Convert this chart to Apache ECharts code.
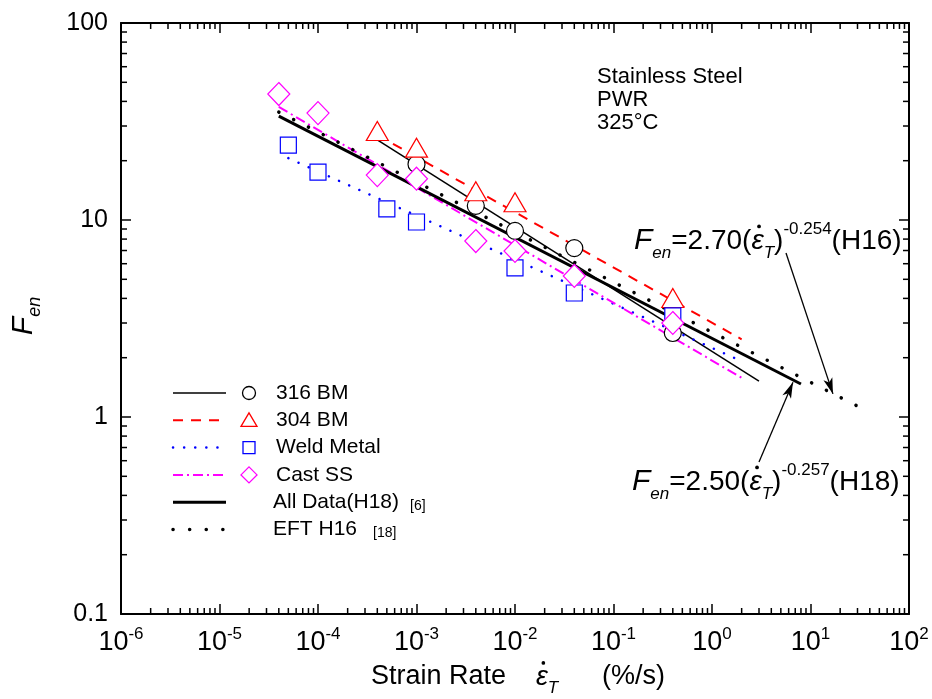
<!DOCTYPE html>
<html><head><meta charset="utf-8">
<script src="https://cdn.jsdelivr.net/npm/echarts@6/dist/echarts.min.js"></script>
<style>html,body{margin:0;padding:0;background:#fff}#c{width:932px;height:699px}</style>
</head><body><div id="c"></div>
<script>
const FONT = "'Liberation Sans', Arial, sans-serif";

// ---- data ----
const seriesNames = ['316 BM', '304 BM', 'Weld Metal', 'Cast SS', 'All Data(H18)', 'EFT H16'];

const bm316X = [1e-3, 4e-3, 1e-2, 4e-2, 0.4];
const bm316Y = [19.2, 11.8, 8.8, 7.2, 2.67];
const bm304X = [4e-4, 1e-3, 4e-3, 1e-2, 0.4];
const bm304Y = [28.3, 23.3, 14.0, 12.3, 4.02];
const weldX  = [5e-5, 1e-4, 5e-4, 1e-3, 1e-2, 4e-2, 0.4];
const weldY  = [24.0, 17.5, 11.4, 9.77, 5.71, 4.26, 3.26];
const castX  = [4e-5, 1e-4, 4e-4, 1e-3, 4e-3, 1e-2, 4e-2, 0.4];
const castY  = [43.6, 34.9, 16.9, 16.2, 7.82, 6.96, 5.2, 3.0];

const fit316X = [4e-4, 3.0],  fit316Y = [25.5, 1.52];
const fit304X = [4e-4, 2.0],  fit304Y = [27.0, 2.48];
const fitWeldX = [5e-5, 2.0], fitWeldY = [20.6, 1.92];
const fitCastX = [4e-5, 2.0], fitCastY = [37.5, 1.58];
const allX = [4e-5, 8.0],     allY = [33.7, 1.47];
const eftX = [4e-5, 34],      eftY = [35.3, 1.1];

// arrows (data coordinates): [fromX, fromY, toX, toY]
const arrowH16 = [5.64, 6.8, 16.9, 1.31];
const arrowH18 = [3.0, 0.591, 6.64, 1.5];

const xMin = 1e-6, xMax = 100, yMin = 0.1, yMax = 100;
const yTickLabels = {'-1': '0.1', '0': '1', '1': '10', '2': '100'};

// minor tick values (2..9 per decade)
const minorX = [], minorY = [];
for (let e = -6; e <= 1; e++) for (let k = 2; k <= 9; k++) minorX.push(k * Math.pow(10, e));
for (let e = -1; e <= 1; e++) for (let k = 2; k <= 9; k++) minorY.push(k * Math.pow(10, e));

const zip = (xs, ys) => xs.map((x, i) => [x, ys[i]]);

const chart = echarts.init(document.getElementById('c'), null, {renderer: 'canvas'});

function lineSeries(name, xs, ys, color, width, type, cap) {
  return {
    name, type: 'line', data: zip(xs, ys), showSymbol: false, symbol: 'none',
    lineStyle: {color, width, type: type || 'solid', cap: cap || 'butt'},
    silent: true, z: 3
  };
}
function scatterSeries(name, xs, ys, symbol, size, color, z) {
  return {
    name, type: 'scatter', data: zip(xs, ys), symbol, symbolSize: size,
    itemStyle: {color: '#fff', borderColor: color, borderWidth: 1.2, opacity: 1},
    silent: true, z
  };
}

// text measuring for inline formulas
const mctx = document.createElement('canvas').getContext('2d');
function textW(t, font) { mctx.font = font; return mctx.measureText(t).width; }

// tokens: {t, size, italic, dy, dot}
function inlineText(x, y, tokens) {
  const out = [];
  let cx = x;
  tokens.forEach(tk => {
    const font = (tk.italic ? 'italic ' : '') + tk.size + 'px ' + FONT;
    const w = textW(tk.t, font);
    out.push({type: 'text', x: cx, y: y + (tk.dy || 0), silent: true,
      style: {text: tk.t, font, fill: '#000', textVerticalAlign: 'middle'}});
    if (tk.dot) {
      out.push({type: 'circle', silent: true, shape: {cx: cx + w * 0.62, cy: y - tk.size * 0.52, r: tk.size * 0.068}, style: {fill: '#000'}});
    }
    cx += w + (tk.gap || 0);
  });
  return out;
}

function formula(x, y, coef, exp, tag) {
  return inlineText(x, y, [
    {t: 'F', size: 30, italic: true},
    {t: 'en', size: 17, italic: true, dy: 12},
    {t: '=' + coef + '(', size: 28},
    {t: '\u03B5', size: 28, italic: true, dot: true},
    {t: 'T', size: 17, italic: true, dy: 12},
    {t: ')', size: 28},
    {t: exp, size: 17, dy: -12},
    {t: '(' + tag + ')', size: 28}
  ]);
}

const axisCommonX = {
  type: 'log', logBase: 10, min: xMin, max: xMax, interval: 1, splitNumber: 8,
  axisLine: {show: true, onZero: false, lineStyle: {color: '#000', width: 2}},
  axisTick: {show: true, inside: true, length: 10, lineStyle: {color: '#000', width: 1.5}},
  splitLine: {show: false}, minorTick: {show: false}
};
const axisCommonY = {
  type: 'log', logBase: 10, min: yMin, max: yMax, interval: 1, splitNumber: 3,
  axisLine: {show: true, onZero: false, lineStyle: {color: '#000', width: 2}},
  axisTick: {show: true, inside: true, length: 10, lineStyle: {color: '#000', width: 1.5}},
  splitLine: {show: false}, minorTick: {show: false}
};

// legend drawn with graphic elements
const legendRows = [
  {stroke: '#000', width: 1.5, dash: null, sym: 'circle', color: '#000'},
  {stroke: '#ff0000', width: 2, dash: [10, 8], sym: 'triangle', color: '#ff0000'},
  {stroke: '#0000ff', width: 2.5, dash: [0.1, 11], cap: 'round', sym: 'rect', color: '#0000ff'},
  {stroke: '#ff00ff', width: 2, dash: [10, 4, 2, 4], sym: 'diamond', color: '#ff00ff'},
  {stroke: '#000', width: 3, dash: null, sym: null},
  {stroke: '#000', width: 3.5, dash: [0.1, 16.5], cap: 'round', sym: null}
];
const legendGraphics = [];
legendRows.forEach((r, i) => {
  const y = 393 + i * 27.3;
  legendGraphics.push({type: 'line', shape: {x1: 173, y1: y, x2: 226, y2: y},
    style: {stroke: r.stroke, lineWidth: r.width, lineDash: r.dash, lineCap: r.cap || 'butt'}});
  const st = {fill: '#fff', stroke: r.color, lineWidth: 1.3};
  if (r.sym === 'circle') legendGraphics.push({type: 'circle', shape: {cx: 249, cy: y, r: 6.5}, style: st});
  if (r.sym === 'triangle') legendGraphics.push({type: 'polygon', shape: {points: [[249, y - 7.5], [257, y + 6], [241, y + 6]]}, style: st});
  if (r.sym === 'rect') legendGraphics.push({type: 'rect', shape: {x: 243, y: y - 6, width: 12, height: 12}, style: st});
  if (r.sym === 'diamond') legendGraphics.push({type: 'polygon', shape: {points: [[249, y - 8], [257, y], [249, y + 8], [241, y]]}, style: st});
  legendGraphics.push({type: 'text', x: i >= 4 ? 273 : 276, y: y, style: {
    text: seriesNames[i], font: '21px ' + FONT, fill: '#000', textVerticalAlign: 'middle'}});
});
legendGraphics.push({type: 'text', x: 410, y: 506, style: {text: '[6]', font: '14px ' + FONT, fill: '#000', textVerticalAlign: 'middle'}});
legendGraphics.push({type: 'text', x: 373, y: 533, style: {text: '[18]', font: '14px ' + FONT, fill: '#000', textVerticalAlign: 'middle'}});

const option = {
  animation: false,
  backgroundColor: '#fff',
  grid: {left: 121, right: 23, top: 23, bottom: 85, containLabel: false},
  xAxis: [
    Object.assign({}, axisCommonX, {position: 'bottom',
      axisLabel: {show: true, margin: 12, color: '#000',
        formatter: v => '{b|10}{s|' + Math.round(Math.log10(v)) + '}',
        rich: {
          b: {fontSize: 27, fontFamily: FONT, lineHeight: 30, verticalAlign: 'bottom', color: '#000'},
          s: {fontSize: 17, fontFamily: FONT, lineHeight: 15, verticalAlign: 'top', color: '#000'}
        }}}),
    Object.assign({}, axisCommonX, {position: 'top', axisLabel: {show: false}})
  ],
  yAxis: [
    Object.assign({}, axisCommonY, {position: 'left',
      axisLabel: {show: true, margin: 13, color: '#000', fontSize: 25, fontFamily: FONT,
        formatter: v => yTickLabels[String(Math.round(Math.log10(v)))]}}),
    Object.assign({}, axisCommonY, {position: 'right', axisLabel: {show: false}})
  ],
  graphic: [
    {type: 'text', x: 597, y: 65, style: {text: 'Stainless Steel\nPWR\n325\u00B0C', font: '22px ' + FONT, fill: '#000', lineHeight: 23}},
    // axis titles
    {type: 'text', x: 24, y: 316, rotation: Math.PI / 2, style: {
      text: '{F|F}{s|en}', textAlign: 'center', textVerticalAlign: 'middle', fill: '#000',
      rich: {
        F: {fontSize: 30, fontStyle: 'italic', fontFamily: FONT, lineHeight: 40, verticalAlign: 'middle'},
        s: {fontSize: 18, fontStyle: 'italic', fontFamily: FONT, lineHeight: 16, verticalAlign: 'bottom'}
      }}},
    {type: 'text', x: 371, y: 677, style: {text: 'Strain Rate', font: '27px ' + FONT, fill: '#000', textVerticalAlign: 'middle'}},
    {type: 'text', x: 602, y: 677, style: {text: '(%/s)', font: '27px ' + FONT, fill: '#000', textVerticalAlign: 'middle'}}
  ].concat(
    inlineText(536, 677, [{t: '\u03B5', size: 27, italic: true, dot: true}, {t: 'T', size: 17, italic: true, dy: 11}]),
    formula(634, 241, '2.70', '-0.254', 'H16'),
    formula(632, 482, '2.50', '-0.257', 'H18'),
    legendGraphics
  ),
  series: [
    lineSeries(seriesNames[0], fit316X, fit316Y, '#000', 1.5),
    lineSeries(seriesNames[1], fit304X, fit304Y, '#ff0000', 2, [10, 8]),
    lineSeries(seriesNames[2], fitWeldX, fitWeldY, '#0000ff', 2.5, [0.1, 11], 'round'),
    lineSeries(seriesNames[3], fitCastX, fitCastY, '#ff00ff', 2, [10, 4, 2, 4]),
    lineSeries(seriesNames[4], allX, allY, '#000', 3),
    Object.assign(lineSeries(seriesNames[5], eftX, eftY, '#000', 3.5, [0.1, 16.5], 'round'), {
      markLine: {
        silent: true, animation: false, symbol: ['none', 'arrow'], symbolSize: [7, 16],
        label: {show: false},
        lineStyle: {color: '#000', width: 1.3, type: 'solid'},
        emphasis: {disabled: true},
        data: [
          [{coord: [arrowH16[0], arrowH16[1]]}, {coord: [arrowH16[2], arrowH16[3]]}],
          [{coord: [arrowH18[0], arrowH18[1]]}, {coord: [arrowH18[2], arrowH18[3]]}]
        ]
      }
    }),
    scatterSeries(seriesNames[0], bm316X, bm316Y, 'circle', 17, '#000', 4),
    scatterSeries(seriesNames[1], bm304X, bm304Y, 'triangle', [22, 19], '#ff0000', 5),
    scatterSeries(seriesNames[2], weldX, weldY, 'rect', 16, '#0000ff', 6),
    scatterSeries(seriesNames[3], castX, castY, 'diamond', [22, 23], '#ff00ff', 7),
    {
      type: 'custom', silent: true, clip: false, z: 10,
      data: minorX.map(v => [v, 1, 0]).concat(minorY.map(v => [1, v, 1])),
      renderItem: function (params, api) {
        const cs = params.coordSys;
        const st = {stroke: '#000', lineWidth: 1.5};
        const L = 6;
        if (api.value(2) === 0) {
          const x = api.coord([api.value(0), 1])[0];
          return {type: 'group', children: [
            {type: 'line', shape: {x1: x, y1: cs.y + cs.height, x2: x, y2: cs.y + cs.height - L}, style: st},
            {type: 'line', shape: {x1: x, y1: cs.y, x2: x, y2: cs.y + L}, style: st}
          ]};
        }
        const y = api.coord([1, api.value(1)])[1];
        return {type: 'group', children: [
          {type: 'line', shape: {x1: cs.x, y1: y, x2: cs.x + L, y2: y}, style: st},
          {type: 'line', shape: {x1: cs.x + cs.width, y1: y, x2: cs.x + cs.width - L, y2: y}, style: st}
        ]};
      }
    }
  ]
};
chart.setOption(option);
</script>
</body></html>
